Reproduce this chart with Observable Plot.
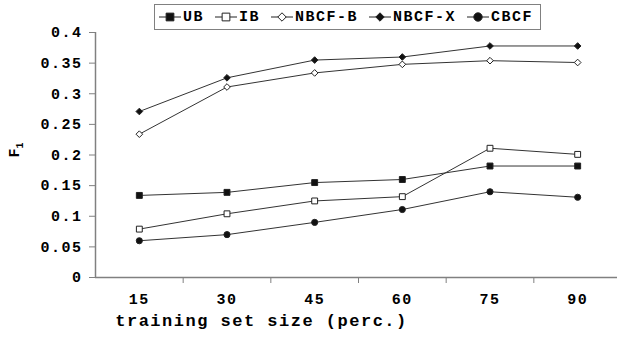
<!DOCTYPE html>
<html><head><meta charset="utf-8">
<script src="https://cdn.jsdelivr.net/npm/d3@7"></script>
<script src="https://cdn.jsdelivr.net/npm/@observablehq/plot@0.6"></script>
<style>
body{margin:0;background:#fff;}
#wrap{position:relative;width:617px;height:342px;font-family:"Liberation Mono",monospace;font-weight:bold;}
#legend{position:absolute;left:154px;top:4px;width:381px;height:24px;border:1.5px solid #808080;display:flex;flex-wrap:nowrap;align-items:center;padding-left:4px;font-size:15px;letter-spacing:1.5px;background:#fff;white-space:nowrap;box-sizing:content-box;}
#legend .item{display:inline-flex;flex:0 0 auto;align-items:center;margin-right:11px;white-space:nowrap;}
#legend svg{margin-right:2px;flex:0 0 auto;}
</style></head><body>
<div id="wrap"><div id="legend"></div></div>
<script>
const sizes = [15, 30, 45, 60, 75, 90];
const seriesNames = ["UB", "IB", "NBCF-B", "NBCF-X", "CBCF"];
const UB = [0.134, 0.139, 0.155, 0.160, 0.182, 0.182];
const IB = [0.079, 0.104, 0.125, 0.132, 0.211, 0.201];
const NBCF_B = [0.234, 0.311, 0.334, 0.348, 0.354, 0.351];
const NBCF_X = [0.271, 0.326, 0.355, 0.360, 0.378, 0.378];
const CBCF = [0.060, 0.070, 0.090, 0.111, 0.140, 0.131];
const yTicks = [0, 0.05, 0.1, 0.15, 0.2, 0.25, 0.3, 0.35, 0.4];
const xBoundaries = [22.5, 37.5, 52.5, 67.5, 82.5];
const xDomain = [7.5, 97.5];
const xLabel = "training set size (perc.)";

const values = [UB, IB, NBCF_B, NBCF_X, CBCF];
const symbols = {"UB":"square","IB":"square","NBCF-B":"diamond2","NBCF-X":"diamond2","CBCF":"circle"};
const fills = {"UB":"#111","IB":"#fff","NBCF-B":"#fff","NBCF-X":"#111","CBCF":"#111"};
const radii = {"UB":5.1,"IB":5.0,"NBCF-B":4.1,"NBCF-X":4.1,"CBCF":4.3};
const data = [];
seriesNames.forEach((s, i) => sizes.forEach((x, j) => data.push({series: s, x, y: values[i][j]})));

const gray = "#808080";
const chart = Plot.plot({
  width: 617, height: 342,
  marginLeft: 95, marginRight: -4, marginTop: 32, marginBottom: 65,
  style: {fontFamily: '"Liberation Mono", monospace', fontWeight: "bold", fontSize: "15px", letterSpacing: "1.5px", color: "#000", background: "#fff"},
  x: {domain: xDomain, label: null},
  y: {domain: [0, 0.4], label: null},
  marks: [
    Plot.ruleX([xDomain[0]], {y1: 0, y2: 0.4, stroke: gray, strokeWidth: 1.5}),
    Plot.ruleY([0], {stroke: gray, strokeWidth: 1.5}),
    Plot.axisY({ticks: yTicks, tickSize: 6, tickPadding: 7, stroke: gray, fontSize: 15, tickFormat: d => String(+d.toFixed(2)), fill: "#000"}),
    Plot.axisX({ticks: xBoundaries, tickSize: 6, tickFormat: () => "", stroke: gray}),
    Plot.axisX({ticks: sizes, tickSize: 0, tickPadding: 16, fontSize: 15, tickFormat: d => String(d), fill: "#000"}),
    Plot.line(data, {x: "x", y: "y", z: "series", stroke: "#333", strokeWidth: 1}),
    Plot.dot(data, {x: "x", y: "y", symbol: d => symbols[d.series], fill: d => fills[d.series], r: d => radii[d.series], stroke: "#222", strokeWidth: 1}),
    Plot.text([xLabel], {frameAnchor: "bottom", dx: -97, dy: 48, fontSize: 17, fill: "#000"}),
  ]
});
chart.style.position = "absolute"; chart.style.left = "0"; chart.style.top = "0";
const wrap = document.getElementById("wrap");
wrap.insertBefore(chart, wrap.firstChild);

// y axis label F1
const svg = d3.select(chart);
svg.append("text").attr("transform", "translate(19,150) rotate(-90)").attr("text-anchor", "middle")
  .style("font-size", "15px").style("font-weight", "bold").style("letter-spacing", "0px")
  .html('F<tspan dy="4" font-size="10">1</tspan>');

// legend
const legend = d3.select("#legend");
seriesNames.forEach(s => {
  const span = legend.append("span").attr("class", "item");
  const sv = span.append("svg").attr("width", 22).attr("height", 12);
  sv.append("line").attr("x1", 0).attr("x2", 22).attr("y1", 6).attr("y2", 6).attr("stroke", "#222");
  const isD = s === "NBCF-B" || s === "NBCF-X";
  const sym = d3.symbol(isD ? d3.symbolDiamond2 : s === "CBCF" ? d3.symbolCircle : d3.symbolSquare, isD ? 45 : s === "CBCF" ? 55 : 60)();
  sv.append("path").attr("d", sym).attr("transform", "translate(11,6)").attr("fill", fills[s]).attr("stroke", "#222");
  span.append("span").text(s);
});
</script>
</body></html>
